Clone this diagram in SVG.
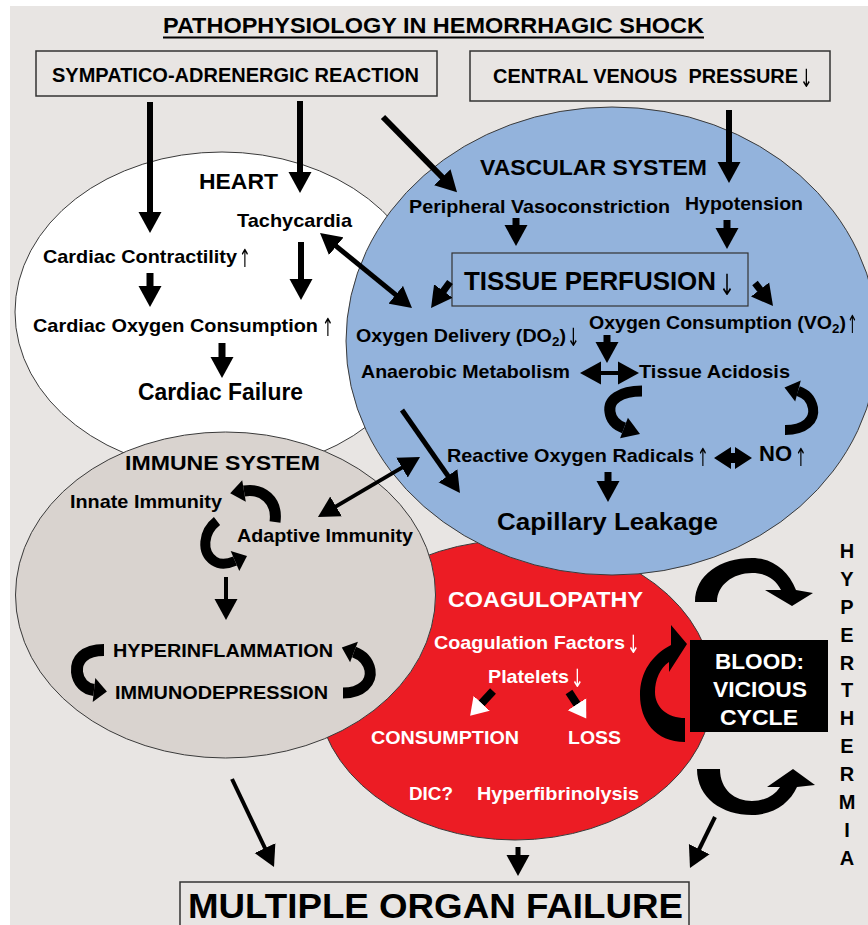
<svg xmlns="http://www.w3.org/2000/svg" width="868" height="925" viewBox="0 0 868 925">
<defs>
<style>
.t{font-family:'Liberation Sans',Arial,Helvetica,sans-serif;font-weight:bold;fill:#000}
.w{fill:#fff}
.ar{font-family:'DejaVu Sans',sans-serif;font-weight:normal;fill:#000;filter:url(#gray)}
.ar.w{fill:#fff}
.ol{stroke:#3a3a3a;stroke-width:1}
.bx{fill:none;stroke:#333;stroke-width:1.5}
.c{fill:none;stroke:#000;stroke-linecap:butt}
.cv{fill:none;stroke:#000;stroke-linecap:butt}
.hd{fill:#000}
.hy{text-anchor:middle;font-size:20px}
</style>
<filter id="gray" x="-50%" y="-50%" width="200%" height="200%"><feOffset dx="0" dy="0"/></filter>
<marker id="hb" markerUnits="userSpaceOnUse" markerWidth="22" markerHeight="24" viewBox="0 0 22 24" refX="1" refY="12" orient="auto-start-reverse"><path d="M0,0.5 L21,12 L0,23.5 Z" fill="#000"/></marker>
<marker id="hw" markerUnits="userSpaceOnUse" markerWidth="18" markerHeight="24" viewBox="0 0 18 24" refX="1" refY="12" orient="auto"><path d="M0,1 L17,12 L0,23 Z" fill="#fff"/></marker>
</defs>
<rect x="0" y="0" width="868" height="925" fill="#fff"/>
<rect x="10" y="6" width="858" height="919" fill="#e8e5e3"/>

<g id="title">
<text class="t" x="163" y="33" font-size="22" textLength="541" lengthAdjust="spacingAndGlyphs">PATHOPHYSIOLOGY IN HEMORRHAGIC SHOCK</text>
<line x1="163" y1="37.5" x2="704" y2="37.5" stroke="#000" stroke-width="1.8"/>
</g>

<g id="sympatico">
<rect class="bx" x="36" y="51" width="401" height="45"/>
<text class="t" x="52" y="82" font-size="19.5" textLength="367" lengthAdjust="spacingAndGlyphs">SYMPATICO-ADRENERGIC REACTION</text>
</g>

<g id="cvp">
<rect class="bx" x="470" y="51" width="360" height="50"/>
<text class="t" x="493" y="83" font-size="19.5" textLength="305" lengthAdjust="spacingAndGlyphs" style="white-space:pre">CENTRAL VENOUS  PRESSURE</text>
<text class="ar" x="800" y="87" font-size="25" textLength="13" lengthAdjust="spacingAndGlyphs">↓</text>
</g>

<g id="heart">
<ellipse class="ol" cx="222" cy="312" rx="207" ry="160" fill="#fff"/>
<text class="t" x="199" y="189" font-size="22" textLength="79" lengthAdjust="spacingAndGlyphs">HEART</text>
<text class="t" x="237" y="227" font-size="19" textLength="115" lengthAdjust="spacingAndGlyphs">Tachycardia</text>
<text class="t" x="43" y="263" font-size="19" textLength="194" lengthAdjust="spacingAndGlyphs">Cardiac Contractility</text>
<text class="ar" x="239" y="267" font-size="25" textLength="12" lengthAdjust="spacingAndGlyphs">↑</text>
<text class="t" x="33" y="332" font-size="19" textLength="285" lengthAdjust="spacingAndGlyphs">Cardiac Oxygen Consumption</text>
<text class="ar" x="322" y="336" font-size="25" textLength="12" lengthAdjust="spacingAndGlyphs">↑</text>
<text class="t" x="138" y="400" font-size="23" textLength="165" lengthAdjust="spacingAndGlyphs">Cardiac Failure</text>
</g>

<g id="coagulopathy">
<ellipse class="ol" cx="515" cy="690" rx="198" ry="150" fill="#ec1c24"/>
</g>

<g id="immune">
<ellipse class="ol" cx="225.5" cy="595" rx="210" ry="163" fill="#d9d3cf"/>
<text class="t" x="125" y="470" font-size="21" textLength="195" lengthAdjust="spacingAndGlyphs">IMMUNE SYSTEM</text>
<text class="t" x="70" y="508" font-size="19" textLength="152" lengthAdjust="spacingAndGlyphs">Innate Immunity</text>
<text class="t" x="237" y="542" font-size="19" textLength="176" lengthAdjust="spacingAndGlyphs">Adaptive Immunity</text>
<text class="t" x="113" y="657" font-size="19" textLength="220" lengthAdjust="spacingAndGlyphs">HYPERINFLAMMATION</text>
<text class="t" x="115" y="699" font-size="19" textLength="213" lengthAdjust="spacingAndGlyphs">IMMUNODEPRESSION</text>
</g>

<g id="vascular">
<ellipse class="ol" cx="612" cy="341" rx="266" ry="234" fill="#93b3dc"/>
<text class="t" x="480" y="175" font-size="22" textLength="227" lengthAdjust="spacingAndGlyphs">VASCULAR SYSTEM</text>
<text class="t" x="409" y="213" font-size="19" textLength="261" lengthAdjust="spacingAndGlyphs">Peripheral Vasoconstriction</text>
<text class="t" x="685" y="210" font-size="19" textLength="118" lengthAdjust="spacingAndGlyphs">Hypotension</text>
<rect x="452" y="253" width="296" height="53" fill="none" stroke="#333" stroke-width="1.2"/>
<text class="t" x="464" y="290" font-size="25" textLength="252" lengthAdjust="spacingAndGlyphs">TISSUE PERFUSION</text>
<text class="ar" x="719" y="295" font-size="29" textLength="16" lengthAdjust="spacingAndGlyphs">↓</text>
<text class="t" x="356" y="342" font-size="19" textLength="210" lengthAdjust="spacingAndGlyphs">Oxygen Delivery (DO<tspan dy="4" font-size="13">2</tspan><tspan dy="-4">)</tspan></text>
<text class="ar" x="567" y="346" font-size="25" textLength="13" lengthAdjust="spacingAndGlyphs">↓</text>
<text class="t" x="589" y="329" font-size="19" textLength="257" lengthAdjust="spacingAndGlyphs">Oxygen Consumption (VO<tspan dy="4" font-size="13">2</tspan><tspan dy="-4">)</tspan></text>
<text class="ar" x="847" y="333" font-size="25" textLength="11" lengthAdjust="spacingAndGlyphs">↑</text>
<text class="t" x="361" y="378" font-size="19" textLength="209" lengthAdjust="spacingAndGlyphs">Anaerobic Metabolism</text>
<text class="t" x="639" y="378" font-size="19" textLength="151" lengthAdjust="spacingAndGlyphs">Tissue Acidosis</text>
<text class="t" x="447" y="462" font-size="19" textLength="247" lengthAdjust="spacingAndGlyphs">Reactive Oxygen Radicals</text>
<text class="ar" x="697" y="466" font-size="25" textLength="12" lengthAdjust="spacingAndGlyphs">↑</text>
<text class="t" x="759" y="461" font-size="22" textLength="33" lengthAdjust="spacingAndGlyphs">NO</text>
<text class="ar" x="795" y="466" font-size="25" textLength="12" lengthAdjust="spacingAndGlyphs">↑</text>
<text class="t" x="497" y="530" font-size="24" textLength="221" lengthAdjust="spacingAndGlyphs">Capillary Leakage</text>
</g>

<g id="coagulopathy-text">
<text class="t w" x="448" y="607" font-size="22" textLength="195" lengthAdjust="spacingAndGlyphs">COAGULOPATHY</text>
<text class="t w" x="434" y="649" font-size="19" textLength="191" lengthAdjust="spacingAndGlyphs">Coagulation Factors</text>
<text class="ar w" x="627" y="653" font-size="25" textLength="13" lengthAdjust="spacingAndGlyphs">↓</text>
<text class="t w" x="488" y="683" font-size="19" textLength="81" lengthAdjust="spacingAndGlyphs">Platelets</text>
<text class="ar w" x="571" y="687" font-size="25" textLength="13" lengthAdjust="spacingAndGlyphs">↓</text>
<text class="t w" x="371" y="744" font-size="19" textLength="148" lengthAdjust="spacingAndGlyphs">CONSUMPTION</text>
<text class="t w" x="568" y="744" font-size="19" textLength="53" lengthAdjust="spacingAndGlyphs">LOSS</text>
<text class="t w" x="409" y="800" font-size="19" textLength="44" lengthAdjust="spacingAndGlyphs">DIC?</text>
<text class="t w" x="477" y="800" font-size="19" textLength="162" lengthAdjust="spacingAndGlyphs">Hyperfibrinolysis</text>
</g>

<g id="blood">
<rect x="690" y="640" width="138" height="92" fill="#000"/>
<text class="t w" x="715" y="669" font-size="22" textLength="89" lengthAdjust="spacingAndGlyphs">BLOOD:</text>
<text class="t w" x="713" y="697" font-size="22" textLength="94" lengthAdjust="spacingAndGlyphs">VICIOUS</text>
<text class="t w" x="720" y="725" font-size="22" textLength="78" lengthAdjust="spacingAndGlyphs">CYCLE</text>
</g>

<g id="hyperthermia" class="t hy">
<text x="847" y="558">H</text>
<text x="847" y="586">Y</text>
<text x="847" y="614">P</text>
<text x="847" y="642">E</text>
<text x="847" y="670">R</text>
<text x="847" y="697">T</text>
<text x="847" y="725">H</text>
<text x="847" y="753">E</text>
<text x="847" y="781">R</text>
<text x="847" y="809">M</text>
<text x="847" y="837">I</text>
<text x="847" y="865">A</text>
</g>

<g id="mof">
<rect class="bx" x="180" y="882" width="509" height="60"/>
<text class="t" x="188" y="918" font-size="35" textLength="495" lengthAdjust="spacingAndGlyphs">MULTIPLE ORGAN FAILURE</text>
</g>

<g id="connectors">
<path class="c" stroke-width="6" marker-end="url(#hb)" d="M150,102 V213"/>
<path class="c" stroke-width="6" marker-end="url(#hb)" d="M300,101 V173"/>
<path class="c" stroke-width="6" marker-end="url(#hb)" d="M383,117 L443,178"/>
<path class="c" stroke-width="6" marker-end="url(#hb)" d="M729,110 V163"/>
<path class="c" stroke-width="7" marker-end="url(#hb)" d="M150,273 V287"/>
<path class="c" stroke-width="6" marker-end="url(#hb)" d="M301,242 V280"/>
<path class="c" stroke-width="7" marker-end="url(#hb)" d="M222,343 V358"/>
<path class="c" stroke-width="5" marker-start="url(#hb)" marker-end="url(#hb)" d="M335.5,245.6 L396.5,295.4"/>
<path class="c" stroke-width="7" marker-end="url(#hb)" d="M516,218 V226"/>
<path class="c" stroke-width="7" marker-end="url(#hb)" d="M727,220 V229"/>
<path class="c" stroke-width="7" marker-end="url(#hb)" d="M450,282 L442.8,291.9"/>
<path class="c" stroke-width="7" marker-end="url(#hb)" d="M755,283 L760.7,290.3"/>
<path class="c" stroke-width="7" marker-end="url(#hb)" d="M607,335 V343"/>
<path class="c" stroke-width="4" marker-start="url(#hb)" marker-end="url(#hb)" d="M600,373 L619,373"/>
<path class="c" stroke-width="5" marker-end="url(#hb)" d="M402,410 L448.5,476.6"/>
<path class="c" stroke-width="4" marker-start="url(#hb)" marker-end="url(#hb)" d="M335.2,506.9 L402.8,467.1"/>
<polygon class="hd" points="714,458 731,447 731,453 735,453 735,447 752,458 735,469 735,463 731,463 731,469"/>
<path class="c" stroke-width="7" marker-end="url(#hb)" d="M608,472 V482"/>
<path class="c" stroke-width="4" marker-end="url(#hb)" d="M226,577 V600"/>
<path class="c" stroke="#fff" stroke-width="8" marker-end="url(#hw)" d="M493,691 L481,704"/>
<path class="c" stroke="#fff" stroke-width="8" marker-end="url(#hw)" d="M569,692 L577.5,705"/>
<path class="c" stroke-width="4" marker-end="url(#hb)" d="M232,779 L265.4,849"/>
<path class="c" stroke-width="5" marker-end="url(#hb)" d="M518,847 V856"/>
<path class="c" stroke-width="4" marker-end="url(#hb)" d="M715,817 L698.8,850"/>

<path class="cv" stroke-width="11" d="M642,391 C620,391 608,400 610,412 C611,420 616,425 624,428"/>
<polygon class="hd" points="627.9,417.7 640,434 620.1,438.3"/>
<path class="cv" stroke-width="10" d="M785,430 C805,430 815,420 813,408 C811,398 806,394 798,391"/>
<polygon class="hd" points="800.8,380.4 784.5,387.4 795.2,401.6"/>
<path class="cv" stroke-width="11" d="M275,522 C278,500 262,488 244,491"/>
<polygon class="hd" points="245.8,501.8 230.2,493.3 242.2,480.2"/>
<path class="cv" stroke-width="10" d="M217,521 C203,532 201,552 214,561 C220,565 228,564 235,561"/>
<polygon class="hd" points="239.3,571.1 247,555.9 230.7,550.9"/>
<path class="cv" stroke-width="12" d="M104,650 C84,650 76,660 77,672 C78,682 85,689 94,690"/>
<polygon class="hd" points="92.7,701.9 106.9,691.4 95.3,678.1"/>
<path class="cv" stroke-width="11" d="M343,693 C362,693 372,682 370,670 C368,660 362,655 354,652"/>
<polygon class="hd" points="357.9,641.7 341.8,647.4 350.1,662.3"/>

<path class="hd" d="M685,742 C655,742 640,720 640,695 C640,672 652,655 671,645 L671,625 L687,644 L669,672 L669,662 C660,668 655,680 655,692 C655,708 668,718 685,718 Z"/>
<path class="hd" d="M695,602 C695,575 720,558 752,558 C772,558 788,570 796,590 L813,593 L792,606 L765,590 L781,590 C775,578 765,573 752,573 C733,573 717,585 717,602 Z"/>
<path class="hd" d="M697,769 L720,769 C720,790 735,801 752,801 C765,801 775,795 780,787 L767,787 L793,769 L815,785 L797,787 C790,803 773,815 752,815 C722,815 697,798 697,769 Z"/>
</g>
</svg>
